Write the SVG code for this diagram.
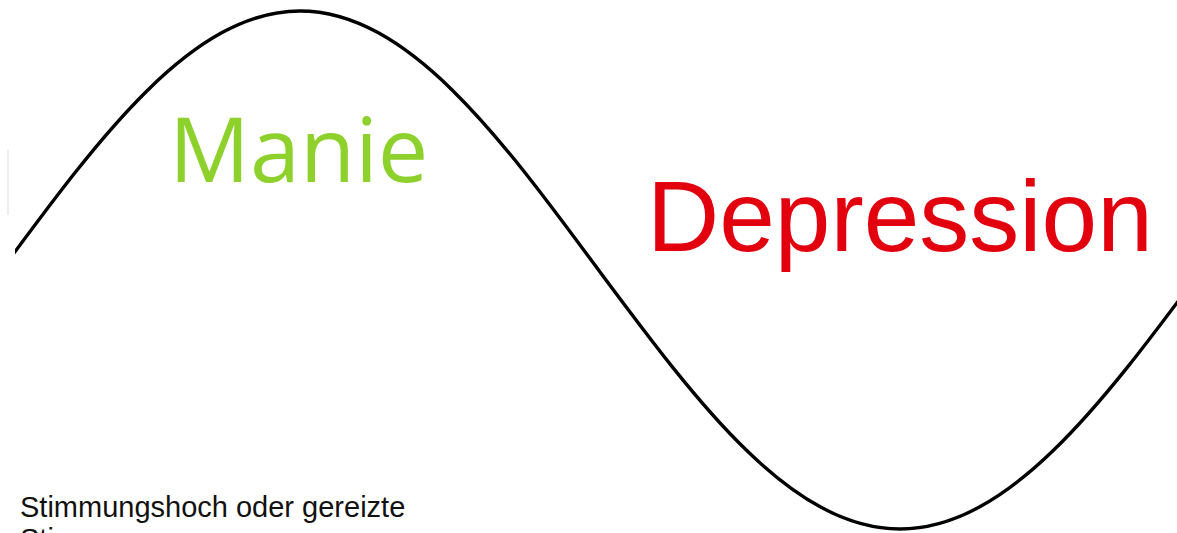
<svg xmlns="http://www.w3.org/2000/svg" width="1177" height="533" viewBox="0 0 1177 533">
  <style>
    .wave { fill: none; stroke: #000; stroke-width: 3.4; stroke-linecap: round; }
    .manie { font-family: "Open Sans", "Noto Sans", sans-serif; font-size: 90px; fill: #8FD12C; }
    .dep { font-family: "Liberation Sans", Arial, sans-serif; font-size: 100px; fill: #E2000F; }
    .note { font-family: "Liberation Sans", Arial, sans-serif; font-size: 29px; fill: #111; }
  </style>
  <defs>
    <clipPath id="clipWave"><rect x="15" y="0" width="1162" height="533"/></clipPath>
  </defs>
  <rect width="1177" height="533" fill="#fff"/>
  <line x1="8" y1="150" x2="8" y2="215" stroke="#eeeeee" stroke-width="2"/>
  <g id="connectors" clip-path="url(#clipWave)">
    <path class="wave" d="M0,272 C97.9,139.5 191.4,11 300,11 C408.6,11 502.1,139.5 600,272 C697.9,403.5 791.4,529 900,529 C1008.6,529 1102.1,403.5 1200,272"/>
  </g>
  <g id="manie">
    <text class="manie" x="169" y="182">Manie</text>
  </g>
  <g id="depression">
    <text class="dep" x="647" y="251">Depression</text>
  </g>
  <g id="note">
    <text class="note" x="20" y="517">Stimmungshoch oder gereizte</text>
    <text class="note" x="20" y="549">Stimmung</text>
  </g>
</svg>
